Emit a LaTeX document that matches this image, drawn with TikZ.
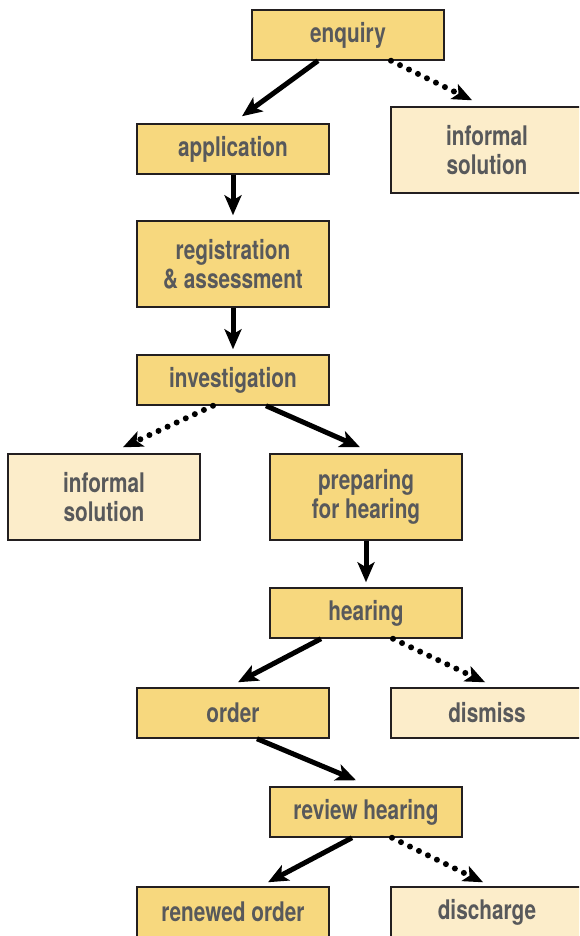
\documentclass[tikz,border=0pt]{standalone}
\usepackage{fontspec}
\setmainfont[FakeStretch=0.77]{TeX Gyre Heros}
\usetikzlibrary{arrows.meta,calc}
\definecolor{darkbox}{HTML}{F7D87E}
\definecolor{lightbox}{HTML}{FCEDCA}
\definecolor{txt}{HTML}{58595B}
\definecolor{edge}{HTML}{231F20}
\begin{document}
\begin{tikzpicture}[x=1pt,y=-1pt,
  box/.style={draw=edge, line width=1.5pt, minimum width=192pt, inner sep=0pt,
    text=txt, align=center, font=\fontsize{27}{29}\selectfont\bfseries},
  one/.style={box, minimum height=50pt},
  two/.style={box, minimum height=86pt},
  main/.style={fill=darkbox},
  side/.style={fill=lightbox},
  solidarrow/.style={line width=5pt, -{Stealth[length=20pt,width=17pt,inset=5pt]}},
  dotarrow/.style={line width=6pt, dash pattern=on 0pt off 10pt, line cap=round,
    -{Stealth[length=20pt,width=17pt,inset=5pt,line cap=butt,line width=0pt]}}]
\useasboundingbox (0,0) rectangle (579,936);
\clip (0,0) rectangle (579,936);
\node[one,main] (enq) at (348,35) {enquiry};
\node[two,side] (inf1) at (487,150) {informal\\solution};
\node[one,main] (app) at (233,149) {application};
\node[two,main] (reg) at (233,264) {registration\\\& assessment};
\node[one,main] (inv) at (233,380) {investigation};
\node[two,side] (inf2) at (104,497) {informal\\solution};
\node[two,main] (prep) at (366,497) {preparing\\for hearing};
\node[one,main] (hear) at (366,613) {hearing};
\node[one,main] (ord) at (233,713) {order};
\node[one,side] (dis) at (487,713) {dismiss};
\node[one,main] (rev) at (366,812) {review hearing};
\node[one,main] (ren) at (233,912) {renewed order};
\node[one,side] (dsc) at (487,912) {discharge};

\draw[solidarrow] ([xshift=-30pt]enq.south) -- ([xshift=9pt,yshift=7pt]app.north);
\draw[dotarrow] ([xshift=43pt]enq.south) -- ([xshift=-15pt,yshift=6pt]inf1.north);
\draw[solidarrow] (app.south) -- ([yshift=5pt]reg.north);
\draw[solidarrow] (reg.south) -- ([yshift=5pt]inv.north);
\draw[dotarrow] ([xshift=-20pt]inv.south) -- ([xshift=19pt,yshift=6pt]inf2.north);
\draw[solidarrow] ([xshift=33pt]inv.south) -- ([xshift=-6pt,yshift=6pt]prep.north);
\draw[solidarrow] (prep.south) -- ([yshift=5pt]hear.north);
\draw[solidarrow] ([xshift=-45pt]hear.south) -- ([xshift=5pt,yshift=5pt]ord.north);
\draw[dotarrow] ([xshift=27pt]hear.south) -- ([xshift=-2pt,yshift=5pt]dis.north);
\draw[solidarrow] ([xshift=24pt]ord.south) -- ([xshift=-10pt,yshift=6pt]rev.north);
\draw[solidarrow] ([xshift=-14pt]rev.south) -- ([xshift=35pt,yshift=4pt]ren.north);
\draw[dotarrow] ([xshift=26pt]rev.south) -- ([xshift=-4pt,yshift=4pt]dsc.north);
\end{tikzpicture}
\end{document}
